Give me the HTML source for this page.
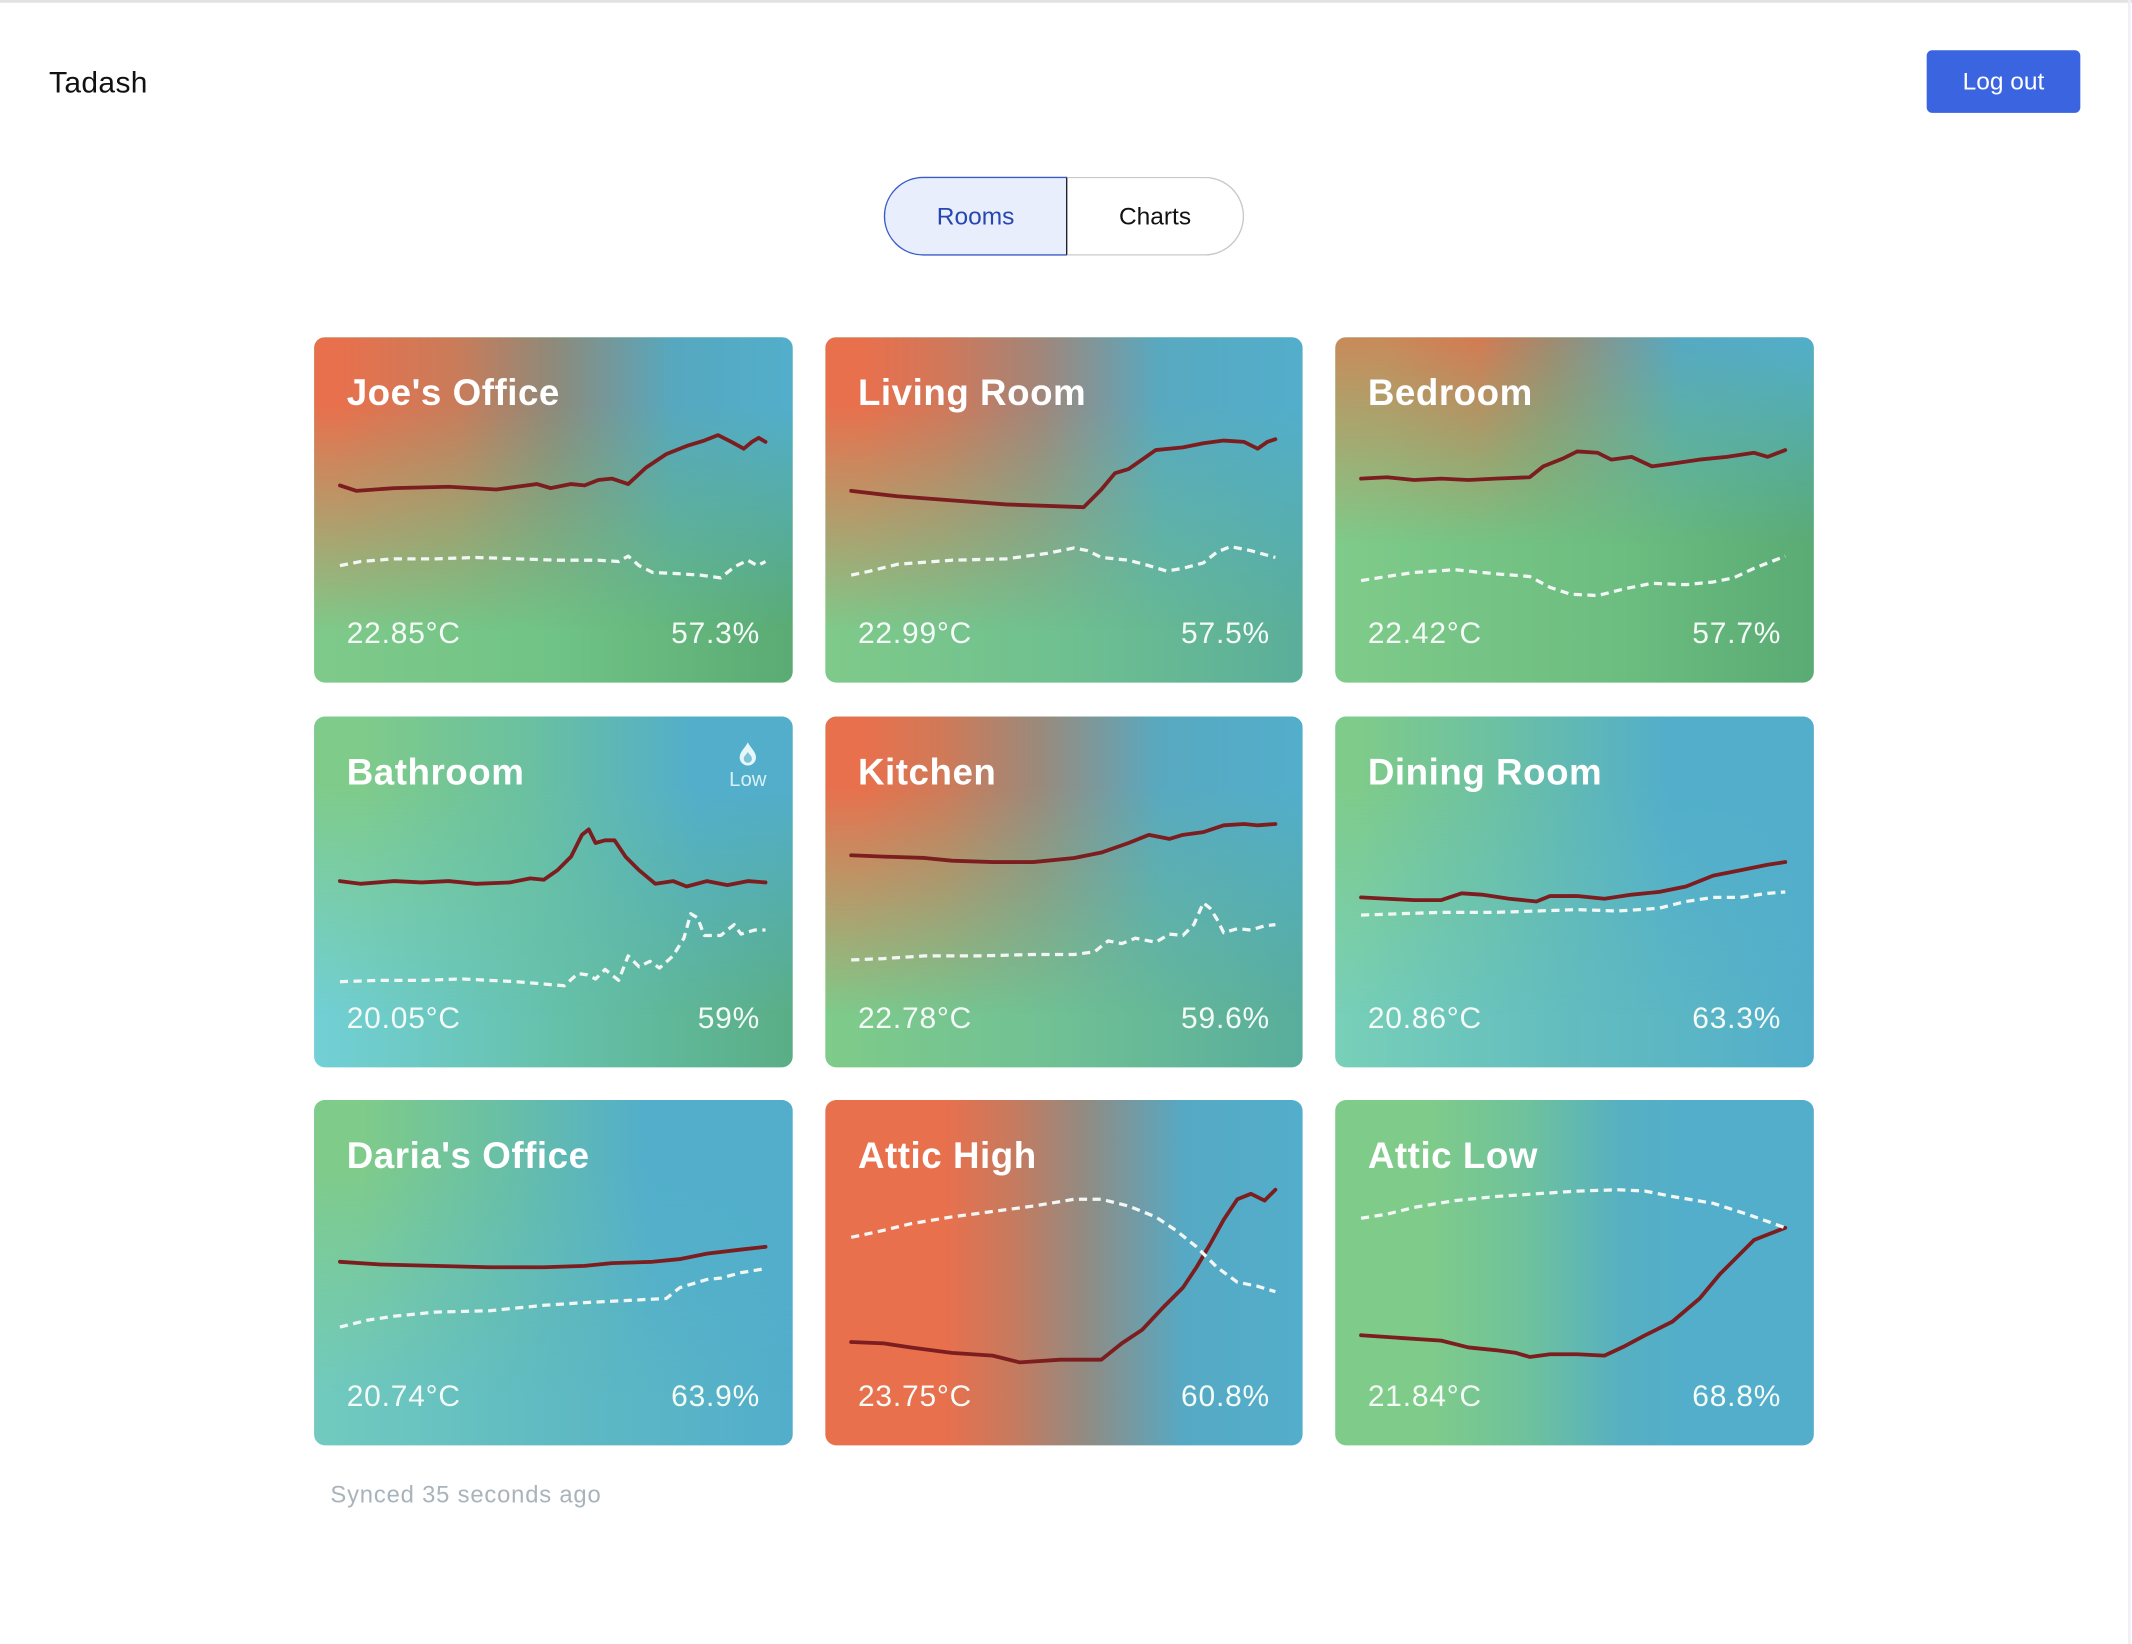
<!DOCTYPE html>
<html><head><meta charset="utf-8"><style>
html,body{margin:0;padding:0;background:#fff;overflow:hidden}
#root{position:relative;width:1568px;height:1209px;transform:scale(1.35969);transform-origin:0 0;font-family:"Liberation Sans",sans-serif}
.topline{position:absolute;left:0;top:0;width:1568px;height:2px;background:#e2e2e2}
.rline{position:absolute;left:1565px;top:0;width:2px;height:1209px;background:#eef0f3}
.brand{position:absolute;left:36px;top:48px;font-size:22px;color:#111;letter-spacing:0.3px}
.logout{position:absolute;left:1417px;top:37px;width:113px;height:46px;background:#3a64e0;border-radius:4px;color:#fff;font-size:18px;line-height:46px;text-align:center}
.tog{position:absolute;top:130px;height:58px;box-sizing:border-box;font-size:18px;line-height:57px;text-align:center}
.rooms{left:650px;width:135px;background:#e8eefb;border:1.5px solid #3a5bc7;border-radius:29px 0 0 29px;color:#2746b0}
.charts{left:784px;width:131px;border:1.5px solid #c8c8c8;border-left:1.5px solid #222;border-radius:0 29px 29px 0;color:#111}
.card{position:absolute;border-radius:8px;overflow:hidden;color:#fff}
.card .top{position:absolute;inset:0;-webkit-mask-image:linear-gradient(to bottom,#000 0%,#000 20%,transparent 85%);mask-image:linear-gradient(to bottom,#000 0%,#000 20%,transparent 85%)}
.card .t{position:absolute;left:24px;top:26px;font-size:27px;font-weight:bold;letter-spacing:0.4px}
.card .v{position:absolute;bottom:23px;font-size:22px;color:#f4fbf7;letter-spacing:0.6px}
.card .l{left:24px}.card .r{right:24px}
svg.lines{position:absolute;left:0;top:0}
.synced{position:absolute;left:243px;top:1089px;font-size:17.5px;color:#a9b3bb;letter-spacing:0.6px}
.drop{position:absolute;left:534px;top:545px;color:#d8f1f7;font-size:15px;text-align:center;width:32px}
</style></head><body><div id="root">
<div class="topline"></div><div class="rline"></div>
<div class="brand">Tadash</div>
<div class="logout">Log out</div>
<div class="tog rooms">Rooms</div><div class="tog charts">Charts</div>

<div class="card" style="left:231px;top:248px;width:352px;height:254px;background:linear-gradient(to right,#7fca8a,#70c386 50%,#5aab74)"><div class="top" style="background:linear-gradient(to right,#e8704d 5%,#c97c5a 30%,#8e8a7a 50%,#56a8bf 75%,#52aecb)"></div><div class="t">Joe's Office</div><div class="v l">22.85°C</div><div class="v r">57.3%</div></div>
<div class="card" style="left:607px;top:248px;width:351px;height:254px;background:linear-gradient(to right,#7fca8a,#6fc090 50%,#5aae9a)"><div class="top" style="background:linear-gradient(to right,#e8704d 8%,#d0785a 25%,#a1867a 45%,#58a9c0 70%,#52aecb)"></div><div class="t">Living Room</div><div class="v l">22.99°C</div><div class="v r">57.5%</div></div>
<div class="card" style="left:982px;top:248px;width:352px;height:254px;background:linear-gradient(to right,#7fcb8a,#6cbd80 60%,#5aab74)"><div class="top" style="-webkit-mask-image:linear-gradient(to bottom,#000 0%,transparent 60%);mask-image:linear-gradient(to bottom,#000 0%,transparent 60%);background:linear-gradient(to right,#c98a5a 10%,#d47a52 30%,#a08a70 45%,#56a9c3 72%,#52aecb)"></div><div class="t">Bedroom</div><div class="v l">22.42°C</div><div class="v r">57.7%</div></div>

<div class="card" style="left:231px;top:527px;width:352px;height:258px;background:linear-gradient(to right,#72d0d6,#66c1ab 50%,#5aae86)"><div class="top" style="background:linear-gradient(to right,#7fcb8a 10%,#6ac0a0 45%,#52aecb 80%)"></div><div class="t">Bathroom</div><div class="v l">20.05°C</div><div class="v r">59%</div></div>
<div class="card" style="left:607px;top:527px;width:351px;height:258px;background:linear-gradient(to right,#7fcb8a,#6fc095 50%,#58ad9c)"><div class="top" style="background:linear-gradient(to right,#e8704d 8%,#cf7a58 25%,#9a8a7c 45%,#58a9c0 70%,#52aecb)"></div><div class="t">Kitchen</div><div class="v l">22.78°C</div><div class="v r">59.6%</div></div>
<div class="card" style="left:982px;top:527px;width:352px;height:258px;background:linear-gradient(to right,#78d0b8,#62bcbf 50%,#52aecb)"><div class="top" style="background:linear-gradient(to right,#7fcb8a 5%,#6bc0a4 35%,#52aecb 70%)"></div><div class="t">Dining Room</div><div class="v l">20.86°C</div><div class="v r">63.3%</div></div>

<div class="card" style="left:231px;top:809px;width:352px;height:254px;background:linear-gradient(to right,#72cbbe,#5fbac2 50%,#52aecb)"><div class="top" style="background:linear-gradient(to right,#7fcb8a 10%,#68bfa6 40%,#52aecb 70%)"></div><div class="t">Daria's Office</div><div class="v l">20.74°C</div><div class="v r">63.9%</div></div>
<div class="card" style="left:607px;top:809px;width:351px;height:254px;background:linear-gradient(to right,#e8704d 25%,#c47b60 40%,#8f8c84 55%,#56a9c4 75%,#52aecb)"><div class="t">Attic High</div><div class="v l">23.75°C</div><div class="v r">60.8%</div></div>
<div class="card" style="left:982px;top:809px;width:352px;height:254px;background:linear-gradient(to right,#7fcb8a 20%,#6ec29c 40%,#56b0c2 60%,#52aecb 75%)"><div class="t">Attic Low</div><div class="v l">21.84°C</div><div class="v r">68.8%</div></div>

<div class="drop"><svg width="14" height="18" viewBox="0 0 14 18" style="display:block;margin:0 auto"><path d="M7 1 C9 5 13 8 13 12 A6 6 0 0 1 1 12 C1 8 5 5 7 1Z" fill="#e6f6fb"/><path d="M7 8 C8 10 10 11 10 13 A3 3 0 0 1 4 13 C4 11 6 10 7 8Z" fill="#7cc4d6"/></svg><div style="margin-top:2px">Low</div></div>

<svg class="lines" width="1568" height="1209" viewBox="0 0 1568 1209" fill="none" stroke-linejoin="round" stroke-linecap="round">
<g stroke="#7c1d1f" stroke-width="2.8">
<polyline points="250,357 262,361 290,359 330,358 365,360 395,356 405,359 420,356 430,357 440,353 450,352 462,356 475,344 490,334 505,328 518,324 528,320 538,325 547,330 553,325 558,322 563,325"/>
<polyline points="626,361 660,365 700,368 740,371 797,373 810,360 820,348 830,345 840,338 850,331 870,329 885,326 900,324 915,325 925,330 932,325 938,323"/>
<polyline points="1001,352 1020,351 1040,353 1060,352 1080,353 1100,352 1125,351 1135,343 1150,337 1160,332 1175,333 1185,338 1200,336 1215,343 1230,341 1250,338 1270,336 1290,333 1300,336 1313,331"/>
<polyline points="250,648 265,650 290,648 310,649 330,648 350,650 375,649 390,646 400,647 410,640 420,630 428,614 433,610 438,620 445,618 452,618 460,630 470,640 482,650 495,648 505,652 520,648 535,651 550,648 563,649"/>
<polyline points="626,629 650,630 680,631 700,633 730,634 760,634 790,631 810,627 830,620 845,614 860,617 870,614 885,612 900,607 915,606 925,607 938,606"/>
<polyline points="1001,660 1020,661 1040,662 1060,662 1075,657 1090,658 1110,661 1130,663 1140,659 1160,659 1180,661 1200,658 1220,656 1240,652 1260,644 1280,640 1300,636 1313,634"/>
<polyline points="250,928 280,930 320,931 360,932 400,932 430,931 450,929 480,928 500,926 520,922 545,919 563,917"/>
<polyline points="626,987 650,988 670,991 700,995 730,997 750,1002 780,1000 810,1000 825,988 840,978 855,962 870,947 880,932 890,915 900,897 910,882 920,878 930,883 938,875"/>
<polyline points="1001,982 1030,984 1060,986 1080,991 1100,993 1115,995 1125,998 1140,996 1160,996 1180,997 1195,990 1210,982 1230,972 1250,955 1265,937 1275,927 1290,912 1300,908 1313,903"/>
</g>
<g stroke="#f2f7f5" stroke-width="2.4" stroke-dasharray="6 4" stroke-linecap="butt">
<polyline points="250,416 265,413 290,411 320,411 350,410 380,411 410,412 440,412 455,413 462,409 470,416 480,421 500,422 515,423 530,425 540,417 550,412 557,416 563,413"/>
<polyline points="626,423 640,420 660,415 700,412 740,411 770,407 790,403 800,405 810,410 830,412 845,416 858,420 870,418 885,414 895,406 905,402 920,405 938,410"/>
<polyline points="1001,427 1020,424 1040,421 1070,419 1100,422 1125,424 1140,432 1155,437 1175,438 1195,433 1215,429 1240,430 1260,428 1275,425 1290,418 1313,409"/>
<polyline points="250,722 280,721 310,721 340,720 380,722 415,725 425,716 432,717 438,720 445,713 455,721 462,703 470,711 478,707 485,712 495,703 503,690 508,672 513,675 518,688 530,688 540,680 545,687 555,684 563,684"/>
<polyline points="626,706 650,705 680,703 720,703 760,702 790,702 805,700 815,692 825,694 835,690 850,693 860,687 870,688 878,680 885,664 890,668 895,676 900,686 910,683 920,684 930,681 938,680"/>
<polyline points="1001,673 1030,672 1060,671 1100,671 1130,670 1160,669 1190,670 1220,668 1240,663 1260,660 1280,660 1300,657 1313,656"/>
<polyline points="250,976 270,971 290,968 320,965 360,964 400,960 430,958 450,957 470,956 490,955 500,947 510,944 520,941 530,940 545,936 563,933"/>
<polyline points="626,910 645,906 670,900 700,895 730,891 760,887 790,882 810,882 830,887 850,895 865,905 880,917 895,932 910,943 925,946 938,950"/>
<polyline points="1001,896 1020,893 1040,888 1070,883 1100,880 1130,878 1160,876 1190,875 1210,876 1230,880 1260,885 1285,893 1313,903"/>
</g>
</svg>
<div class="synced">Synced 35 seconds ago</div>
</div></body></html>
